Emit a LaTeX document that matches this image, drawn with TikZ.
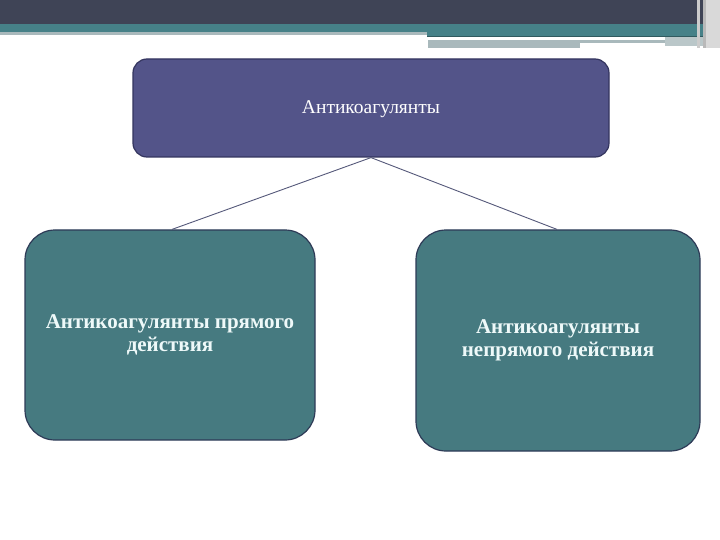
\documentclass[tikz,border=0pt]{standalone}
\usepackage{fontspec}
\setmainfont{Liberation Serif}
\definecolor{darkband}{HTML}{3F4456}
\definecolor{tealband}{HTML}{468188}
\definecolor{greystrip}{HTML}{A9B9BC}
\definecolor{topfill}{HTML}{535489}
\definecolor{topdraw}{HTML}{34355F}
\definecolor{boxfill}{HTML}{467A80}
\definecolor{boxdraw}{HTML}{2E3B57}
\definecolor{linkcol}{HTML}{55597A}
\definecolor{txtcol}{HTML}{EEF9F9}
\begin{document}
\begin{tikzpicture}[x=1pt,y=-1pt,
  topbox/.style={draw=topdraw,line width=1.2pt,fill=topfill,rounded corners=14pt,text=white,align=center,font=\fontsize{19.5}{23}\selectfont},
  subbox/.style={draw=boxdraw,line width=1.2pt,fill=boxfill,rounded corners=30pt,text=txtcol,align=center,font=\fontsize{21}{23.5}\selectfont\bfseries},
  link/.style={draw=linkcol,line width=0.9pt}]
\useasboundingbox (0,0) rectangle (720,540);
\fill[white] (0,0) rectangle (720,540);
% header bands
\fill[darkband] (0,0) rectangle (705,24);
\fill[tealband] (0,24) rectangle (705,32);
\fill[greystrip] (0,32) rectangle (427,35);
\fill[tealband] (427,32) rectangle (705,36);
\fill[tealband!70!black] (427,36) rectangle (705,37);
\fill[greystrip] (428,40) rectangle (665,43);
\fill[greystrip] (428,43) rectangle (580,48);
\fill[greystrip!80!white] (665,37) rectangle (705,46);
\fill[gray!40] (697,0) rectangle (700,48);
\fill[gray!55] (703,0) rectangle (706,48);
\fill[gray!30] (706,0) rectangle (720,48);
% nodes
\node[topbox,minimum width=476pt,minimum height=98pt,text depth=0pt,text height=11pt] (top) at (371,108) {Антикоагулянты};
\node[subbox,minimum width=290pt,minimum height=210pt] (left) at (170,335) {Антикоагулянты прямого\\действия};
\node[subbox,minimum width=284pt,minimum height=221pt] (right) at (558,340.5) {\rule{0pt}{8pt}Антикоагулянты\\непрямого действия};
% connectors
\coordinate (lt) at (172,230);
\coordinate (rt) at (557,230);
\draw[link] (top.south) -- (left.north -| lt);
\draw[link] (top.south) -- (right.north -| rt);
\end{tikzpicture}
\end{document}
